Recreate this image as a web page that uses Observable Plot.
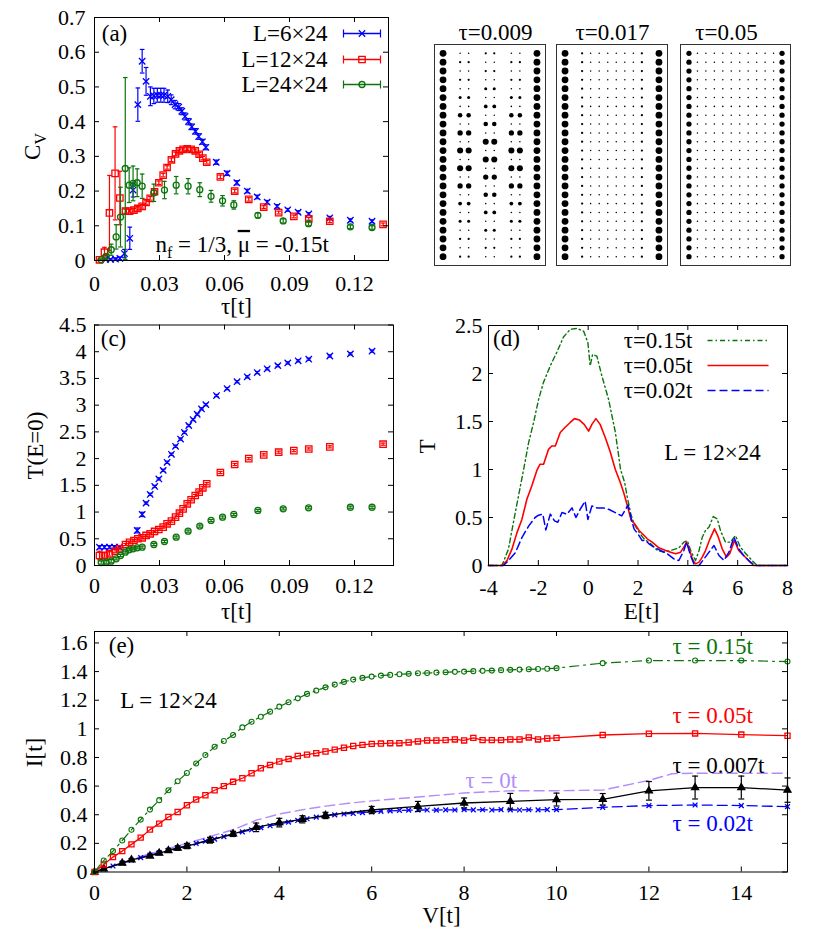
<!DOCTYPE html>
<html><head><meta charset="utf-8">
<script src="https://cdn.jsdelivr.net/npm/d3@7"></script>
<script src="https://cdn.jsdelivr.net/npm/@observablehq/plot@0.6"></script>
<style>
html,body{margin:0;padding:0;background:#fff;overflow:hidden}
#root{position:relative;width:830px;height:932px;background:#fff}
#root svg{position:absolute;left:0;top:0;font-family:'Liberation Serif','Times New Roman',serif !important}
#root svg text{font-family:'Liberation Serif','Times New Roman',serif !important}
</style></head><body><div id="root"></div>
<script>
// ---------- DATA ----------
// panel (a): [tau, Cv, err]
const aBlue = [[0.0051,0.003,0.002],[0.0074,0.003,0.002],[0.0097,0.004,0.003],[0.0117,0.006,0.004],[0.0138,0.02,0.012],[0.0163,0.064,0.032],[0.0178,0.203,0.02],[0.0200,0.449,0.048],[0.0220,0.574,0.034],[0.0238,0.516,0.04],[0.0258,0.473,0.027],[0.0274,0.474,0.022],[0.0290,0.476,0.02],[0.0306,0.476,0.02],[0.0321,0.476,0.02],[0.0338,0.473,0.018],[0.0354,0.463,0.014],[0.0372,0.449,0.012],[0.0389,0.442,0.01],[0.0403,0.43,0.01],[0.0418,0.415,0.01],[0.0434,0.4,0.009],[0.0449,0.385,0.008],[0.0466,0.372,0.008],[0.0481,0.357,0.008],[0.0498,0.342,0.007],[0.0514,0.326,0.007],[0.0562,0.283,0.006],[0.0612,0.251,0.006],[0.0657,0.224,0.006],[0.0705,0.2,0.005],[0.0751,0.183,0.005],[0.0797,0.168,0.005],[0.0843,0.156,0.005],[0.0892,0.146,0.004],[0.094,0.139,0.004],[0.0989,0.134,0.004],[0.1086,0.123,0.004],[0.1181,0.116,0.004],[0.1281,0.113,0.004]];
const aRed = [[0.0023,0.002,0.002],[0.0046,0.024,0.014],[0.0069,0.137,0.108],[0.0095,0.251,0.134],[0.0117,0.18,0.077],[0.0143,0.142,0.006],[0.0162,0.142,0.005],[0.0182,0.145,0.005],[0.0200,0.15,0.005],[0.0220,0.156,0.005],[0.0238,0.167,0.005],[0.0257,0.179,0.005],[0.0277,0.198,0.005],[0.0297,0.224,0.005],[0.0317,0.246,0.005],[0.0335,0.268,0.005],[0.0355,0.29,0.005],[0.0374,0.307,0.005],[0.0392,0.316,0.005],[0.0409,0.32,0.005],[0.0428,0.322,0.005],[0.0446,0.32,0.005],[0.0465,0.316,0.005],[0.0483,0.306,0.005],[0.0500,0.295,0.005],[0.0518,0.283,0.005],[0.0581,0.241,0.005],[0.0647,0.2,0.005],[0.0712,0.176,0.005],[0.0781,0.154,0.004],[0.0850,0.138,0.004],[0.0920,0.127,0.004],[0.0989,0.12,0.004],[0.1086,0.113,0.004],[0.1332,0.104,0.004]];
const aGreen = [[0.0031,0.002,0.002],[0.0054,0.012,0.006],[0.0077,0.031,0.016],[0.0100,0.068,0.035],[0.0120,0.125,0.086],[0.0142,0.265,0.262],[0.0160,0.217,0.05],[0.0178,0.222,0.05],[0.0197,0.224,0.04],[0.0220,0.214,0.035],[0.0274,0.195,0.025],[0.0323,0.203,0.025],[0.0377,0.217,0.025],[0.0432,0.214,0.022],[0.0486,0.204,0.02],[0.0538,0.185,0.017],[0.0591,0.172,0.015],[0.0643,0.16,0.012],[0.0754,0.13,0.007],[0.0871,0.114,0.006],[0.0988,0.106,0.006],[0.1181,0.097,0.005],[0.1281,0.095,0.005]];
const aLabels = ["L=6\u00D724","L=12\u00D724","L=24\u00D724"];
const tauTicks = [0,0.03,0.06,0.09,0.12];
const cvTicks = [0,0.1,0.2,0.3,0.4,0.5,0.6,0.7];

// panel (b): site occupation levels (0-9), 12 columns x 24 rows
const tau009Rows = ["902203302209","903302203309","902203302209","903302203309","902204402209","904402204409","902205502209","906602206609","902206602209","907702207709","902208802209","908802208809","902208802209","908802208809","902207702209","907702207709","902206602209","905502205509","902205502209","904402204409","902204402209","903302203309","902203302209","903302203309"];
const tau017Row = "903222222309";   // identical in every row
const tau05Row  = "722222222227";   // identical in every row
const latticeRowCount = 24;
const latticeTitles = ["\u03C4=0.009","\u03C4=0.017","\u03C4=0.05"];

// panel (c): [tau, T(E=0), err]
const cBlue = [[0.0023,0.343,0.03],[0.0046,0.343,0.03],[0.0069,0.343,0.03],[0.0092,0.343,0.03],[0.0115,0.343,0.03],[0.0197,0.655,0.045],[0.0220,0.955,0.04],[0.0238,1.167,0.02],[0.0257,1.33,0.02],[0.0278,1.479,0.02],[0.0297,1.62,0.02],[0.0317,1.78,0.02],[0.0335,1.93,0.02],[0.0355,2.08,0.02],[0.0374,2.23,0.02],[0.0397,2.365,0.02],[0.0415,2.49,0.02],[0.0435,2.62,0.02],[0.0455,2.73,0.02],[0.0474,2.83,0.02],[0.0494,2.93,0.02],[0.0514,3.01,0.02],[0.0563,3.18,0.02],[0.0612,3.31,0.02],[0.0658,3.44,0.02],[0.0705,3.53,0.02],[0.0751,3.61,0.02],[0.0797,3.68,0.02],[0.0846,3.74,0.02],[0.0892,3.79,0.02],[0.094,3.83,0.02],[0.0989,3.86,0.02],[0.1086,3.92,0.02],[0.1181,3.96,0.02],[0.1281,4.01,0.02]];
const cRed = [[0.0023,0.187,0.08],[0.0046,0.19,0.05],[0.0069,0.218,0.04],[0.0095,0.268,0.03],[0.0117,0.312,0.02],[0.0143,0.393,0.02],[0.0162,0.434,0.02],[0.0182,0.468,0.02],[0.0200,0.5,0.02],[0.0220,0.518,0.02],[0.0238,0.562,0.02],[0.0257,0.593,0.02],[0.0277,0.637,0.02],[0.0297,0.674,0.02],[0.0317,0.718,0.02],[0.0335,0.78,0.02],[0.0355,0.83,0.02],[0.0374,0.905,0.02],[0.0392,0.979,0.02],[0.0409,1.06,0.02],[0.0428,1.154,0.02],[0.0446,1.23,0.02],[0.0465,1.31,0.02],[0.0483,1.373,0.02],[0.0500,1.454,0.02],[0.0518,1.53,0.02],[0.0581,1.74,0.02],[0.0647,1.89,0.02],[0.0712,2.0,0.02],[0.0781,2.07,0.02],[0.0850,2.12,0.02],[0.0920,2.15,0.02],[0.0989,2.18,0.02],[0.1086,2.22,0.02],[0.1332,2.27,0.02]];
const cGreen = [[0.0031,0.056,0.03],[0.0054,0.062,0.03],[0.0077,0.081,0.03],[0.0100,0.125,0.02],[0.0120,0.187,0.02],[0.0142,0.25,0.02],[0.0160,0.293,0.02],[0.0178,0.312,0.02],[0.0197,0.331,0.02],[0.0220,0.343,0.02],[0.0274,0.393,0.02],[0.0323,0.449,0.02],[0.0377,0.53,0.02],[0.0432,0.643,0.02],[0.0486,0.737,0.02],[0.0538,0.843,0.02],[0.0591,0.905,0.02],[0.0643,0.955,0.02],[0.0754,1.03,0.02],[0.0871,1.06,0.02],[0.0988,1.08,0.02],[0.1181,1.09,0.02],[0.1281,1.09,0.02]];
const cTTicks = [0,0.5,1,1.5,2,2.5,3,3.5,4,4.5];

// panel (d): [E, T]
const dGreen = [[-4,0],[-3.46,0],[-3.2,0.17],[-3.0,0.45],[-2.8,0.72],[-2.59,1.0],[-2.39,1.28],[-2.19,1.49],[-1.99,1.73],[-1.79,1.91],[-1.52,2.08],[-1.26,2.22],[-0.99,2.38],[-0.72,2.46],[-0.45,2.47],[-0.18,2.44],[-0.01,2.32],[0.08,2.08],[0.18,2.2],[0.35,2.18],[0.55,1.975],[0.82,1.73],[1.09,1.39],[1.30,1.0],[1.46,0.868],[1.57,0.712],[1.71,0.54],[1.84,0.434],[2.04,0.347],[2.24,0.278],[2.51,0.226],[2.78,0.156],[3.04,0.139],[3.31,0.156],[3.64,0.184],[3.84,0.243],[3.98,0.26],[4.14,0.139],[4.31,0.052],[4.45,0.156],[4.58,0.295],[4.71,0.365],[4.85,0.4],[5.02,0.51],[5.18,0.486],[5.31,0.365],[5.51,0.243],[5.71,0.243],[5.91,0.312],[6.11,0.191],[6.31,0.128],[6.58,0.052],[6.78,0],[8,0]];
const dRed = [[-4,0],[-3.46,0],[-3.26,0.05],[-3.06,0.17],[-2.86,0.34],[-2.66,0.48],[-2.46,0.69],[-2.26,0.83],[-2.06,0.99],[-1.93,1.055],[-1.79,1.055],[-1.59,1.21],[-1.46,1.245],[-1.32,1.245],[-1.12,1.385],[-0.92,1.44],[-0.72,1.49],[-0.55,1.53],[-0.36,1.516],[-0.16,1.47],[0.02,1.40],[0.15,1.47],[0.31,1.53],[0.48,1.47],[0.69,1.33],[0.89,1.18],[1.09,1.0],[1.29,0.865],[1.44,0.747],[1.57,0.625],[1.73,0.469],[1.87,0.434],[2.04,0.365],[2.21,0.323],[2.37,0.278],[2.57,0.243],[2.84,0.184],[3.11,0.156],[3.31,0.139],[3.51,0.122],[3.71,0.139],[3.84,0.191],[3.95,0.243],[4.04,0.184],[4.18,0.069],[4.31,0.017],[4.45,0.035],[4.58,0.087],[4.71,0.156],[4.89,0.278],[5.07,0.382],[5.2,0.312],[5.38,0.174],[5.55,0.087],[5.68,0.122],[5.87,0.26],[6.04,0.156],[6.24,0.104],[6.44,0.052],[6.64,0],[8,0]];
const dBlue = [[-4,0],[-3.4,0],[-3.2,0.05],[-2.93,0.13],[-2.66,0.29],[-2.39,0.41],[-2.13,0.5],[-1.99,0.524],[-1.82,0.535],[-1.70,0.37],[-1.52,0.535],[-1.35,0.465],[-1.22,0.45],[-1.05,0.552],[-0.85,0.535],[-0.65,0.6],[-0.49,0.5],[-0.32,0.586],[-0.12,0.67],[-0.01,0.48],[0.15,0.62],[0.35,0.6],[0.62,0.6],[0.82,0.586],[1.09,0.55],[1.35,0.517],[1.6,0.63],[1.73,0.486],[1.84,0.382],[2.04,0.312],[2.17,0.26],[2.31,0.26],[2.44,0.226],[2.64,0.191],[2.91,0.156],[3.18,0.122],[3.44,0.069],[3.64,0.052],[3.84,0.156],[3.95,0.243],[4.11,0.104],[4.27,0],[4.45,0],[4.65,0.069],[4.85,0.139],[5.05,0.208],[5.25,0.104],[5.45,0.052],[5.65,0.139],[5.85,0.295],[6.04,0.174],[6.24,0.104],[6.51,0.035],[6.71,0],[8,0]];
const dLabels = ["\u03C4=0.15t","\u03C4=0.05t","\u03C4=0.02t"];
const eTicksD = [-4,-2,0,2,4,6,8];
const tTicksD = [0,0.5,1,1.5,2,2.5];

// panel (e): [V, I] (black: [V, I, err])
const eGreen = [[0,0],[0.2,0.08],[0.4,0.146],[0.6,0.22],[0.8,0.295],[1.0,0.366],[1.2,0.436],[1.4,0.502],[1.6,0.571],[1.8,0.634],[2.0,0.692],[2.2,0.758],[2.4,0.817],[2.6,0.875],[2.8,0.915],[3.0,0.957],[3.2,1.01],[3.4,1.05],[3.6,1.085],[3.8,1.12],[4.0,1.155],[4.2,1.186],[4.4,1.213],[4.6,1.244],[4.8,1.267],[5.0,1.29],[5.2,1.309],[5.4,1.328],[5.6,1.344],[5.8,1.356],[6.0,1.365],[6.2,1.372],[6.4,1.377],[6.6,1.381],[6.8,1.384],[7.0,1.388],[7.2,1.39],[7.4,1.393],[7.6,1.395],[7.8,1.398],[8.0,1.40],[8.2,1.403],[8.4,1.405],[8.6,1.407],[8.8,1.41],[9.0,1.412],[9.2,1.414],[9.4,1.416],[9.6,1.418],[9.8,1.42],[10,1.424],[11,1.459],[12,1.477],[13,1.477],[14,1.477],[15,1.47]];
const eRed = [[0,0],[0.2,0.053],[0.4,0.104],[0.6,0.146],[0.8,0.193],[1.0,0.24],[1.2,0.296],[1.4,0.338],[1.6,0.384],[1.8,0.419],[2.0,0.466],[2.2,0.506],[2.4,0.536],[2.6,0.571],[2.8,0.6],[3.0,0.63],[3.2,0.655],[3.4,0.69],[3.6,0.725],[3.8,0.748],[4.0,0.772],[4.2,0.79],[4.4,0.81],[4.6,0.82],[4.8,0.83],[5.0,0.842],[5.2,0.855],[5.4,0.868],[5.6,0.88],[5.8,0.888],[6.0,0.895],[6.2,0.897],[6.4,0.9],[6.6,0.9],[6.8,0.905],[7.0,0.912],[7.2,0.919],[7.4,0.919],[7.6,0.921],[7.8,0.926],[8.0,0.919],[8.2,0.937],[8.4,0.921],[8.6,0.921],[8.8,0.921],[9.0,0.926],[9.2,0.926],[9.4,0.94],[9.6,0.926],[9.8,0.933],[10,0.937],[11,0.957],[12,0.966],[13,0.968],[14,0.96],[15,0.952]];
const eBlue = [[0,0],[0.2,0.02],[0.4,0.042],[0.6,0.063],[0.8,0.082],[1.0,0.1],[1.2,0.118],[1.4,0.135],[1.6,0.152],[1.8,0.168],[2.0,0.184],[2.2,0.2],[2.4,0.215],[2.6,0.23],[2.8,0.247],[3.0,0.265],[3.2,0.28],[3.4,0.295],[3.6,0.31],[3.8,0.323],[4.0,0.336],[4.2,0.348],[4.4,0.36],[4.6,0.372],[4.8,0.383],[5.0,0.392],[5.2,0.399],[5.4,0.405],[5.6,0.41],[5.8,0.415],[6.0,0.42],[6.2,0.424],[6.4,0.427],[6.6,0.43],[6.8,0.432],[7.0,0.433],[7.2,0.433],[7.4,0.432],[7.6,0.434],[7.8,0.433],[8.0,0.436],[8.2,0.434],[8.4,0.435],[8.6,0.433],[8.8,0.436],[9.0,0.434],[9.2,0.433],[9.4,0.435],[9.6,0.434],[9.8,0.436],[10,0.436],[11,0.452],[12,0.464],[13,0.468],[14,0.464],[15,0.457]];
const eBlack = [[0,0,0],[0.2,0.022,0.006],[0.6,0.062,0.008],[0.8,0.085,0.008],[1.2,0.112,0.01],[1.4,0.132,0.01],[1.6,0.15,0.012],[1.8,0.167,0.015],[2.0,0.181,0.018],[2.5,0.222,0.02],[3.0,0.266,0.018],[3.5,0.312,0.03],[4.0,0.345,0.03],[4.5,0.368,0.025],[5.0,0.395,0.022],[6.0,0.433,0.025],[7.0,0.458,0.035],[8.0,0.482,0.035],[9.0,0.494,0.055],[10,0.506,0.045],[11,0.508,0.04],[12,0.567,0.065],[13,0.59,0.08],[14,0.59,0.08],[15,0.572,0.085]];
const ePurple = [[0,0],[0.5,0.055],[1,0.108],[1.5,0.155],[2,0.2],[2.5,0.248],[3,0.295],[3.5,0.362],[4,0.405],[4.5,0.435],[5,0.46],[5.5,0.48],[6,0.497],[7,0.524],[8,0.552],[9,0.567],[10,0.568],[11,0.572],[12,0.64],[12.5,0.686],[13,0.69],[14,0.69],[15,0.69]];
const eLabels = ["\u03C4 = 0.15t","\u03C4 = 0.05t","\u03C4 = 0.007t","\u03C4 = 0t","\u03C4 = 0.02t"];
const vTicks = [0,2,4,6,8,10,12,14];
const iTicks = [0,0.2,0.4,0.6,0.8,1,1.2,1.4,1.6];

// ---------- STYLE / LAYOUT ----------
const FONT = "'Liberation Serif','Times New Roman',serif";
const BLUE = "#0000ff", RED = "#ff0000", GREEN = "#0b740b", PURPLE = "#b48cf8", BLACK = "#000000";
const root = document.getElementById("root");

function frameOf(L, R, T, B, xd, yd) {
  return {L, R, T, B, xd, yd,
    X: px => xd[0] + (px - L) / (R - L) * (xd[1] - xd[0]),
    Y: py => yd[0] + (B - py) / (B - T) * (yd[1] - yd[0])};
}
const hcap = {draw(c, s) { const r = Math.sqrt(s / Math.PI); c.moveTo(-r, 0); c.lineTo(r, 0); }};
const vcap = {draw(c, s) { const r = Math.sqrt(s / Math.PI); c.moveTo(0, -r); c.lineTo(0, r); }};
const fmt = d => String(d);

function borderMarks(f, xt, yt) {
  const W = f.R - f.L, H = f.B - f.T, t = 5;
  return [
    Plot.tickX(xt, {x: d => d, insetTop: H - t, stroke: "black"}),
    Plot.tickX(xt, {x: d => d, insetBottom: H - t, stroke: "black"}),
    Plot.tickY(yt, {y: d => d, insetRight: W - t, stroke: "black"}),
    Plot.tickY(yt, {y: d => d, insetLeft: W - t, stroke: "black"}),
    Plot.frame({stroke: "black", strokeWidth: 1})
  ];
}
function series(data, color, sym, r, o = {}) {
  const m = [];
  const sw = o.sw || 1.2;
  if (o.line) m.push(Plot.line(data, {x: d => d[0], y: d => d[1], stroke: color, strokeWidth: o.lw || 1.2, strokeDasharray: o.dash}));
  if (o.err) {
    m.push(Plot.ruleX(data, {x: d => d[0], y1: d => d[1] - d[2], y2: d => d[1] + d[2], stroke: color, strokeWidth: sw}));
    m.push(Plot.dot(data, {x: d => d[0], y: d => d[1] + d[2], symbol: hcap, r: o.cap || 2.3, stroke: color, fill: "none", strokeWidth: sw}));
    m.push(Plot.dot(data, {x: d => d[0], y: d => d[1] - d[2], symbol: hcap, r: o.cap || 2.3, stroke: color, fill: "none", strokeWidth: sw}));
  }
  if (sym) m.push(Plot.dot(data, {x: d => d[0], y: d => d[1], symbol: sym, r, stroke: color, fill: o.fill || "none", strokeWidth: o.msw || 1.3}));
  return m;
}
function txt(f, s, px, py, o = {}) {
  return Plot.text([s], {x: f.X(px), y: f.Y(py), text: d => d, fontSize: o.size || 23, textAnchor: o.anchor || "middle", fill: o.fill || "black", rotate: o.rotate || 0});
}
function legendRow(f, label, color, sym, r, py, tRight, x1, x2, o = {}) {
  const y = f.Y(py);
  const m = [txt(f, label, tRight, py, {anchor: "end"})];
  m.push(Plot.link([0], {x1: f.X(x1), x2: f.X(x2), y1: y, y2: y, stroke: color, strokeWidth: o.lw || 1.3, strokeDasharray: o.dash}));
  if (o.caps) m.push(Plot.dot([x1, x2], {x: d => f.X(d), y: y, symbol: vcap, r: 4, stroke: color, fill: "none", strokeWidth: 1.2}));
  if (sym) m.push(Plot.dot([0], {x: f.X((x1 + x2) / 2), y: y, symbol: sym, r, stroke: color, fill: "none", strokeWidth: 1.3}));
  return m;
}
function plotPanel(f, xo, yo, marks, extra = {}) {
  const svg = Plot.plot(Object.assign({
    width: 830, height: 932,
    marginLeft: f.L, marginRight: 830 - f.R, marginTop: f.T, marginBottom: 932 - f.B,
    style: {fontFamily: FONT, fontSize: "22px", background: "none", overflow: "visible", color: "#000"},
    x: Object.assign({domain: f.xd, label: null, tickSize: 0}, xo),
    y: Object.assign({domain: f.yd, label: null, tickSize: 0}, yo),
    marks
  }, extra));
  root.appendChild(svg);
  return svg;
}
function rich(svg, key, parts) {
  d3.select(svg).selectAll("text").filter(function () { return this.textContent === key; }).each(function () {
    const t = d3.select(this); t.text("");
    for (const p of parts) {
      const sp = t.append("tspan").text(p.s);
      if (p.dy) sp.attr("dy", p.dy);
      if (p.fs) sp.attr("font-size", p.fs);
      if (p.deco) sp.style("text-decoration", p.deco);
    }
  });
}

// ---------- PANEL (a) ----------
const fA = frameOf(94, 388, 17, 260, [0, 0.1357], [0, 0.7]);
const svgA = plotPanel(fA,
  {ticks: tauTicks, tickFormat: fmt, tickPadding: 15},
  {ticks: cvTicks, tickFormat: fmt, tickPadding: 9},
  [
    ...series(aBlue, BLUE, "times", 3, {err: true}),
    ...series(aRed, RED, "square", 3.6, {err: true}),
    ...series(aGreen, GREEN, "circle", 3, {err: true}),
    ...borderMarks(fA, tauTicks, cvTicks),
    ...legendRow(fA, aLabels[0], BLUE, "times", 3, 33, 327, 343, 380, {caps: true}),
    ...legendRow(fA, aLabels[1], RED, "square", 3.6, 59, 327, 343, 380, {caps: true}),
    ...legendRow(fA, aLabels[2], GREEN, "circle", 3, 84, 327, 343, 380, {caps: true}),
    txt(fA, "(a)", 114, 33),
    txt(fA, "NF", 155, 244, {anchor: "start"}),
    txt(fA, "\u03C4[t]", 236, 306),
    txt(fA, "C_V", 32, 146, {rotate: -90})
  ]);
rich(svgA, "C_V", [{s: "C"}, {s: "V", dy: "6", fs: "16px"}]);
rich(svgA, "NF", [
  {s: "n"}, {s: "f", dy: "6", fs: "16px"}, {s: " = 1/3, ", dy: "-6"},
  {s: "\u03BC", deco: "overline"}, {s: " = -0.15t"}
]);

// ---------- PANEL (b) ----------
function latticeCells(rows) {
  return rows.flatMap((s, i) => [...s].map((c, j) => ({row: i + 1, col: j + 1, v: +c})));
}
const boxes = [
  {f: frameOf(434, 545, 44, 265, [0, 13], [25, 0]), rows: tau009Rows, title: latticeTitles[0], tx: 495},
  {f: frameOf(556, 667, 44, 265, [0, 13], [25, 0]), rows: Array.from({length: latticeRowCount}, () => tau017Row), title: latticeTitles[1], tx: 612},
  {f: frameOf(680, 790, 44, 265, [0, 13], [25, 0]), rows: Array.from({length: latticeRowCount}, () => tau05Row), title: latticeTitles[2], tx: 726}
];
for (const b of boxes) {
  plotPanel(b.f, {axis: null}, {axis: null}, [
    Plot.dot(latticeCells(b.rows), {x: "col", y: "row", r: "v", fill: "black", stroke: "none"}),
    Plot.frame({stroke: "#333", strokeWidth: 1}),
    txt(b.f, b.title, b.tx, 32)
  ], {r: {type: "linear", domain: [0, 9], range: [0, 3.4]}});
}

// ---------- PANEL (c) ----------
const fC = frameOf(94, 393, 324.5, 565, [0, 0.138], [0, 4.5]);
plotPanel(fC,
  {ticks: tauTicks, tickFormat: fmt, tickPadding: 12},
  {ticks: cTTicks, tickFormat: fmt, tickPadding: 8},
  [
    ...series(cBlue, BLUE, "times", 3, {err: true}),
    ...series(cRed, RED, "square", 3.6, {err: true}),
    ...series(cGreen, GREEN, "circle", 3, {err: true}),
    ...borderMarks(fC, tauTicks, cTTicks),
    txt(fC, "(c)", 113, 338),
    txt(fC, "\u03C4[t]", 236, 611),
    txt(fC, "T(E=0)", 35, 445, {rotate: -90})
  ]);

// ---------- PANEL (d) ----------
const fD = frameOf(488, 787, 325, 565, [-4, 8], [0, 2.5]);
const dashDotD = "5,3,1.5,3", dashD = "8,4";
plotPanel(fD,
  {ticks: eTicksD, tickFormat: fmt, tickPadding: 14},
  {ticks: tTicksD, tickFormat: fmt, tickPadding: 6},
  [
    ...series(dGreen, GREEN, null, 0, {line: true, lw: 1.4, dash: dashDotD}),
    ...series(dRed, RED, null, 0, {line: true, lw: 1.6}),
    ...series(dBlue, BLUE, null, 0, {line: true, lw: 1.5, dash: dashD}),
    ...borderMarks(fD, eTicksD, tTicksD),
    ...legendRow(fD, dLabels[0], GREEN, null, 0, 340, 692, 707, 768, {dash: dashDotD, lw: 1.4}),
    ...legendRow(fD, dLabels[1], RED, null, 0, 365, 692, 707, 768, {lw: 1.6}),
    ...legendRow(fD, dLabels[2], BLUE, null, 0, 390, 692, 707, 768, {dash: dashD, lw: 1.5}),
    txt(fD, "(d)", 506, 338),
    txt(fD, "L = 12\u00D724", 712, 452),
    txt(fD, "E[t]", 641, 611),
    txt(fD, "T", 427, 446, {rotate: -90})
  ]);

// ---------- PANEL (e) ----------
const fE = frameOf(94, 787, 631, 871.5, [0, 15], [0, 1.68]);
plotPanel(fE,
  {ticks: vTicks, tickFormat: fmt, tickPadding: 12},
  {ticks: iTicks, tickFormat: fmt, tickPadding: 7},
  [
    ...series(ePurple, PURPLE, null, 0, {line: true, lw: 1.4, dash: "10,5"}),
    ...series(eBlue, BLUE, "times", 2.3, {line: true, lw: 1.3, dash: "10,5"}),
    ...series(eBlack, BLACK, "triangle", 2.6, {line: true, lw: 1.3, err: true, cap: 3, fill: BLACK}),
    ...series(eRed, RED, "square", 2.9, {line: true, lw: 1.3}),
    ...series(eGreen, GREEN, "circle", 2.5, {line: true, lw: 1.2, dash: "9,5,2,5", msw: 1.1}),
    ...borderMarks(fE, vTicks, iTicks),
    txt(fE, "(e)", 121, 645),
    txt(fE, "L = 12\u00D724", 168, 700),
    txt(fE, eLabels[0], 672, 646, {anchor: "start", fill: GREEN}),
    txt(fE, eLabels[1], 672, 715, {anchor: "start", fill: RED}),
    txt(fE, eLabels[2], 672, 765, {anchor: "start", fill: BLACK}),
    txt(fE, eLabels[3], 465, 780, {anchor: "start", fill: PURPLE}),
    txt(fE, eLabels[4], 672, 823, {anchor: "start", fill: BLUE}),
    txt(fE, "V[t]", 441, 915),
    txt(fE, "I[t]", 34, 752, {rotate: -90})
  ]);
</script></body></html>
